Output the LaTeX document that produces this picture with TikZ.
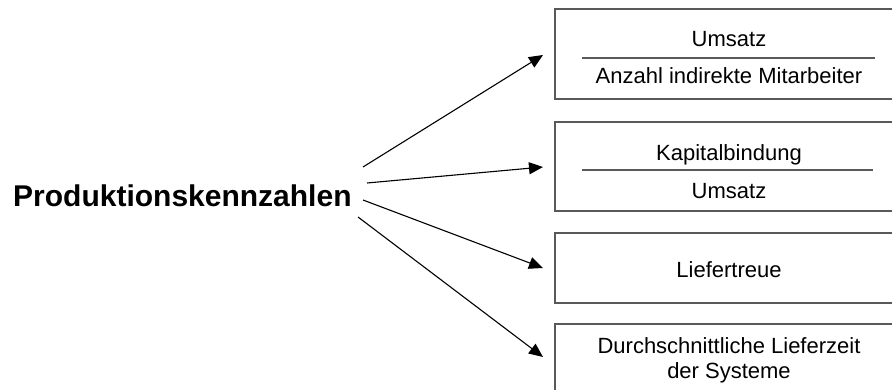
\documentclass[tikz,border=0pt]{standalone}
\usepackage{fontspec}
\setmainfont{Liberation Sans}
\usetikzlibrary{arrows.meta}

\tikzset{
  kbox/.style={draw=black!65, line width=1.3pt, minimum width=348pt, inner sep=0pt},
  ktext/.style={anchor=base, inner sep=0pt, font=\fontsize{22}{25}\selectfont},
  fracline/.style={draw=black!65, line width=1.3pt},
  arr/.style={line width=1.1pt, -{Triangle[length=14pt,width=12pt]}}
}

\begin{document}
\begin{tikzpicture}[x=1pt,y=-1pt]
  \useasboundingbox (0,0) rectangle (892,390);
  \clip (0,0) rectangle (892,390);

  % main heading
  \node[anchor=base west, inner sep=0pt, font=\fontsize{30}{34}\selectfont\bfseries]
    (title) at (13,207) {Produktionskennzahlen};

  % key figure boxes
  \node[kbox, minimum height=90pt] (b1) at (729,54) {};
  \node[kbox, minimum height=89pt] (b2) at (729,166.5) {};
  \node[kbox, minimum height=70pt] (b3) at (729,268) {};
  \node[kbox, minimum height=78pt] (b4) at (729,363) {};

  % box 1: turnover per indirect employee
  \node[ktext] (t1a) at (729,47) {Umsatz};
  \node[ktext] (t1b) at (729,84) {Anzahl indirekte Mitarbeiter};
  \draw[fracline] (582,58) -- (875,58);

  % box 2: tied-up capital per turnover
  \node[ktext] (t2a) at (729,161) {Kapitalbindung};
  \node[ktext] (t2b) at (729,199) {Umsatz};
  \draw[fracline] (582,170) -- (873,170);

  % box 3 and 4
  \node[ktext] (t3) at (729,277) {Liefertreue};
  \node[ktext] (t4a) at (729,353) {Durchschnittliche Lieferzeit};
  \node[ktext] (t4b) at (729,378) {der Systeme};

  % arrow end points
  \coordinate (s1) at (363,167);
  \coordinate (s2) at (367,183);
  \coordinate (s3) at (363,200);
  \coordinate (s4) at (358,217);
  \coordinate (e1) at (543,55);
  \coordinate (e2) at (543,167);
  \coordinate (e3) at (543,268);
  \coordinate (e4) at (543,357);

  \draw[arr] (s1) -- (e1);
  \draw[arr] (s2) -- (e2);
  \draw[arr] (s3) -- (e3);
  \draw[arr] (s4) -- (e4);
\end{tikzpicture}
\end{document}
